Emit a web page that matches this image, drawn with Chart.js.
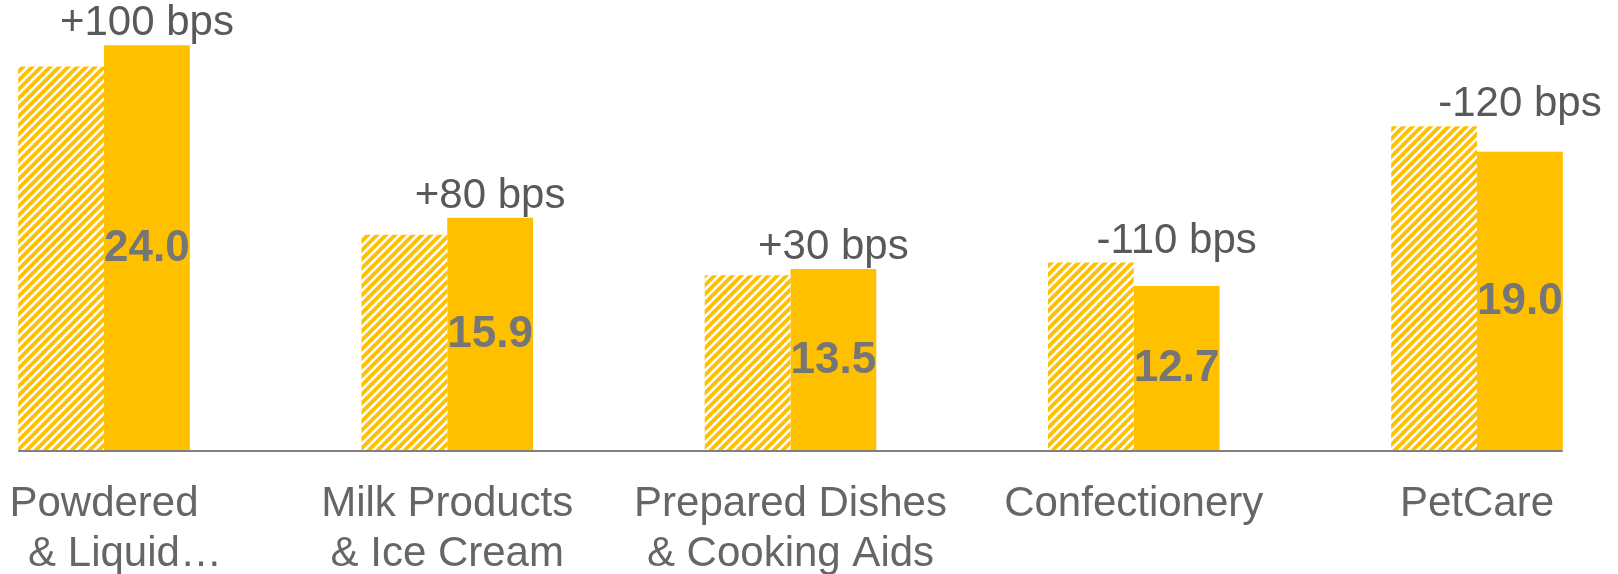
<!DOCTYPE html>
<html>
<head>
<meta charset="utf-8">
<script src="https://cdn.jsdelivr.net/npm/chart.js@4"></script>
<style>
  html, body { margin: 0; padding: 0; background: #fff; overflow: hidden; }
  canvas { display: block; }
</style>
</head>
<body>
<canvas id="chart" width="1618" height="574"></canvas>
<script>
const categories = [
  ['Powdered', '\u2002\u2002& Liquid…'],
  ['Milk Products', '& Ice Cream'],
  ['Prepared Dishes', '& Cooking Aids'],
  ['Confectionery'],
  ['PetCare']
];
const prevValues = [23.0, 15.1, 13.2, 13.8, 20.2];
const currValues = [24.0, 15.9, 13.5, 12.7, 19.0];
const changeLabels = ['+100 bps', '+80 bps', '+30 bps', '-110 bps', '-120 bps'];

const gold = '#FFC000';
const axisMin = 5;

function hatch() {
  const n = 9;
  const c = document.createElement('canvas');
  c.width = n;
  c.height = n;
  const g = c.getContext('2d');
  g.fillStyle = '#fff';
  g.fillRect(0, 0, n, n);
  g.strokeStyle = gold;
  g.lineWidth = 3.8;
  g.beginPath();
  // stripes along x + y = 0, n, 2n so the tile joins up
  g.moveTo(-3, 3); g.lineTo(3, -3);
  g.moveTo(-3, n + 3); g.lineTo(n + 3, -3);
  g.moveTo(n - 3, n + 3); g.lineTo(n + 3, n - 3);
  g.stroke();
  return g.createPattern(c, 'repeat');
}

// baseline + bar labels
const labelsPlugin = {
  id: 'labels',
  afterDatasetsDraw(chart) {
    const ctx = chart.ctx;
    const prev = chart.getDatasetMeta(0).data;
    const curr = chart.getDatasetMeta(1).data;
    ctx.save();

    const y0 = chart.scales.y.getPixelForValue(axisMin);
    const first = prev[0], last = curr[curr.length - 1];
    ctx.strokeStyle = '#808080';
    ctx.lineWidth = 2;
    ctx.beginPath();
    ctx.moveTo(first.x - first.width / 2, y0 + 1);
    ctx.lineTo(last.x + last.width / 2, y0 + 1);
    ctx.stroke();

    ctx.textAlign = 'center';
    curr.forEach((bar, i) => {
      ctx.fillStyle = '#767676';
      ctx.font = 'bold 44px "Liberation Sans", Arial, sans-serif';
      ctx.textBaseline = 'middle';
      ctx.fillText(currValues[i].toFixed(1), bar.x, (bar.y + bar.base) / 2 + 1);

      ctx.fillStyle = '#595959';
      ctx.font = '42px "Liberation Sans", Arial, sans-serif';
      ctx.textBaseline = 'alphabetic';
      const top = Math.min(bar.y, prev[i].y);
      ctx.fillText(changeLabels[i], bar.x, top - 10);
    });
    ctx.restore();
  }
};

const ctx = document.getElementById('chart').getContext('2d');
new Chart(ctx, {
  type: 'bar',
  data: {
    labels: categories,
    datasets: [
      {
        data: prevValues,
        base: axisMin,
        backgroundColor: hatch(),
        borderWidth: 0,
        categoryPercentage: 0.5,
        barPercentage: 1.0,
        clip: false
      },
      {
        data: currValues,
        base: axisMin,
        backgroundColor: gold,
        borderWidth: 0,
        categoryPercentage: 0.5,
        barPercentage: 1.0,
        clip: false
      }
    ]
  },
  options: {
    responsive: false,
    animation: false,
    events: [],
    layout: { padding: { left: 104, right: 141, top: 24, bottom: 0 } },
    plugins: {
      legend: { display: false },
      tooltip: { enabled: false }
    },
    scales: {
      x: {
        offset: false,
        grid: { display: false, drawTicks: false },
        border: { display: false },
        ticks: {
          color: '#666666',
          padding: 29,
          maxRotation: 0,
          autoSkip: false,
          font: { family: '"Liberation Sans", Arial, sans-serif', size: 42, lineHeight: 1.19 }
        },
        afterFit: s => {
          s.height = 124;
          s.paddingLeft = 0;
          s.paddingRight = 0;
        }
      },
      y: {
        display: false,
        min: axisMin,
        max: 25
      }
    }
  },
  plugins: [labelsPlugin]
});
</script>
</body>
</html>
